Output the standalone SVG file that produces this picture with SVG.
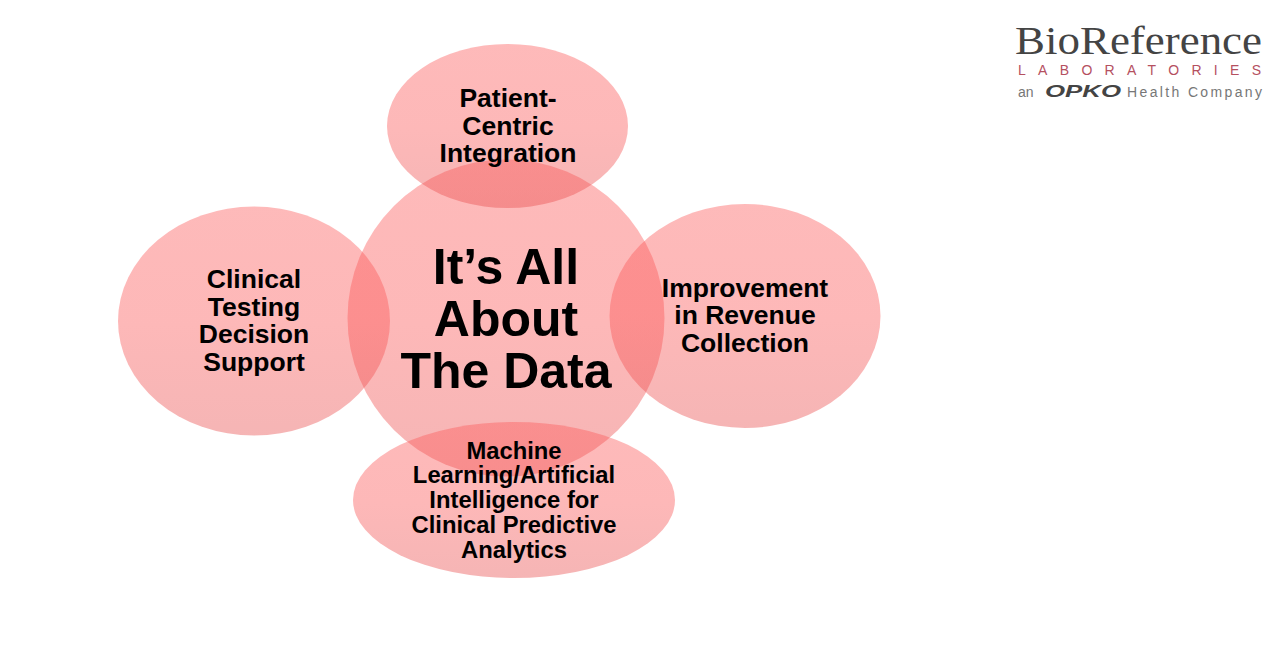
<svg xmlns="http://www.w3.org/2000/svg" width="1280" height="672" viewBox="0 0 1280 672">
<defs><linearGradient id="g" x1="0" y1="0" x2="0" y2="1"><stop offset="0" stop-color="#fc5a5a"/><stop offset="0.5" stop-color="#fb5656"/><stop offset="1" stop-color="#e84e4e"/></linearGradient></defs>
<style>
.c{fill:url(#g);fill-opacity:.42}
text{font-family:"Liberation Sans",Arial,sans-serif;font-weight:700;fill:#000;text-anchor:middle}
.s{font-size:26.500px}
.m{font-size:23.800px}
.b{font-size:50px}
.l{font-weight:400;text-anchor:start}
</style>
<rect width="1280" height="672" fill="#fff"/>
<g id="center"><circle class="c" cx="506" cy="318" r="158.500"/><text class="b" x="506" y="284">It’s All</text><text class="b" x="506" y="336">About</text><text class="b" x="506" y="388">The Data</text></g>
<g id="top"><ellipse class="c" cx="507.500" cy="126" rx="120.500" ry="82"/><text class="s" x="508" y="107">Patient-</text><text class="s" x="508" y="135">Centric</text><text class="s" x="508" y="162">Integration</text></g>
<g id="left"><ellipse class="c" cx="254" cy="321" rx="136" ry="114.500"/><text class="s" x="254" y="288">Clinical</text><text class="s" x="254" y="316">Testing</text><text class="s" x="254" y="343">Decision</text><text class="s" x="254" y="371">Support</text></g>
<g id="right"><ellipse class="c" cx="745" cy="316" rx="135.500" ry="112"/><text class="s" x="745" y="297">Improvement</text><text class="s" x="745" y="324">in Revenue</text><text class="s" x="745" y="352">Collection</text></g>
<g id="bottom"><ellipse class="c" cx="514" cy="500" rx="161" ry="78"/><text class="m" x="514" y="459">Machine</text><text class="m" x="514" y="483">Learning/Artificial</text><text class="m" x="514" y="508">Intelligence for</text><text class="m" x="514" y="533">Clinical Predictive</text><text class="m" x="514" y="558">Analytics</text></g>
<g id="logo">
<text class="l" x="1015" y="54" style="font-family:'Liberation Serif',serif;font-size:40.500px;fill:#444" textLength="247" lengthAdjust="spacingAndGlyphs">BioReference</text>
<text class="l" x="1018" y="75" style="font-size:14px;fill:#b5505f" textLength="243">LABORATORIES</text>
<text class="l" x="1018" y="97" style="font-size:14px;fill:#777">an</text>
<text class="l" x="1045" y="97" style="font-size:17px;font-weight:700;font-style:italic;fill:#444" textLength="76" lengthAdjust="spacingAndGlyphs">OPKO</text>
<text class="l" x="1127" y="97" style="font-size:14px;fill:#777" textLength="135">Health Company</text>
</g>
</svg>
